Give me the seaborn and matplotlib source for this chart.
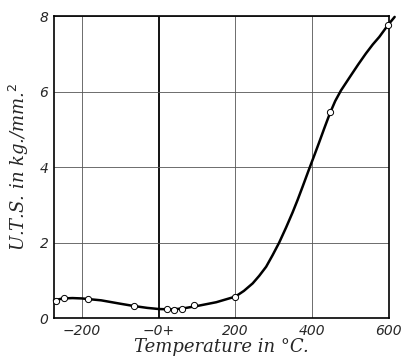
import numpy as np
import pandas as pd
import seaborn as sns
import matplotlib.pyplot as plt

# Measured points (open circles)
temp_pts = [-268, -246, -184, -65, 22, 41, 61, 91, 200, 446, 598]
uts_pts = [0.46, 0.52, 0.51, 0.32, 0.24, 0.21, 0.25, 0.34, 0.57, 5.47, 7.77]

# Hand-drawn smooth curve
temp_curve = [-273, -250, -225, -200, -150, -100, -65, -30, 0, 30, 60, 100, 150, 200,
              222, 245, 262, 280, 297, 314, 332, 349, 362, 375, 391, 407, 418, 432,
              446, 460, 475, 499, 520, 540, 558, 575, 598, 615]
uts_curve = [0.47, 0.52, 0.53, 0.52, 0.47, 0.38, 0.32, 0.27, 0.24, 0.23, 0.25, 0.32, 0.42, 0.57,
             0.72, 0.92, 1.12, 1.36, 1.67, 2.0, 2.4, 2.8, 3.13, 3.48, 3.92, 4.35, 4.65, 5.04,
             5.42, 5.75, 6.03, 6.40, 6.72, 7.01, 7.25, 7.45, 7.77, 7.98]

x_ticks = [-200, 0, 200, 400, 600]
x_ticklabels = ['\u2212200', '\u22120+', '200', '400', '600']
y_ticks = [0, 2, 4, 6, 8]

sns.set_style('white')
plt.rcParams['font.family'] = ['DejaVu Serif']

fig = plt.figure(figsize=(4.03, 3.59), dpi=100)
ax = fig.add_axes([0.134, 0.114, 0.831, 0.841])

curve = pd.DataFrame({'T': temp_curve, 'UTS': uts_curve})
pts = pd.DataFrame({'T': temp_pts, 'UTS': uts_pts})

# grid lines (the 0 deg line is drawn heavier)
for x in x_ticks:
    ax.axvline(x, color='black' if x == 0 else '#555555', lw=1.3 if x == 0 else 0.6, zorder=0)
for y in y_ticks:
    ax.axhline(y, color='#555555', lw=0.6, zorder=0)

sns.lineplot(data=curve, x='T', y='UTS', color='black', lw=1.8, ax=ax,
             sort=False, zorder=2)
ax.lines[-1].set_clip_on(False)
ax.lines[-1].set_solid_joinstyle('round')
sns.scatterplot(data=pts, x='T', y='UTS', marker='o', s=20, facecolor='white',
                edgecolor='black', linewidth=0.7, ax=ax, zorder=3, clip_on=False)

ax.set_xlim(-273, 600)
ax.set_ylim(0, 8)
ax.set_xticks(x_ticks)
ax.set_xticklabels(x_ticklabels)
ax.set_yticks(y_ticks)
ax.tick_params(length=0, labelsize=10, pad=4)
for t in ax.get_xticklabels() + ax.get_yticklabels():
    t.set_fontstyle('italic')
    t.set_family('DejaVu Sans')

for s in ax.spines.values():
    s.set_color('black')
    s.set_linewidth(1.2)

ax.set_xlabel('Temperature in \u00b0C.', fontsize=13, fontstyle='italic', labelpad=0)
ax.set_ylabel('U.T.S. in kg./mm.$^2$', fontsize=13, fontstyle='italic', labelpad=6)

plt.savefig('out.png', dpi=100)
